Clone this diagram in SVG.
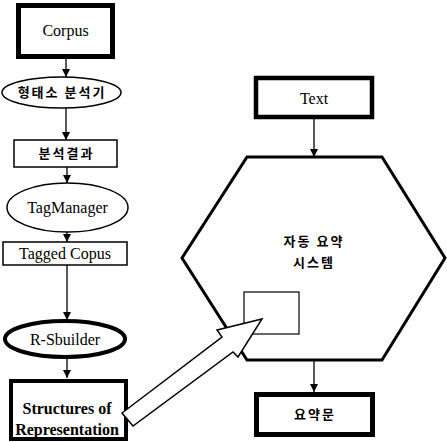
<svg xmlns="http://www.w3.org/2000/svg" width="447" height="442" viewBox="0 0 447 442">
<defs>
<marker id="ah" viewBox="0 0 8 8" refX="8" refY="4" markerWidth="8" markerHeight="8" markerUnits="userSpaceOnUse" orient="auto">
<path d="M0,0 L8,4 L0,8 Z" fill="#000"/>
</marker>
<style>
.en{font-family:'Liberation Serif','Times New Roman','DejaVu Serif',serif;font-size:16px;fill:#000;text-anchor:middle}
.ko{font-family:'Noto Sans CJK KR','Noto Sans',sans-serif;font-size:13px;font-weight:bold;fill:#000;text-anchor:middle;letter-spacing:2px}
.thin{fill:#fff;stroke:#000;stroke-width:1.5}
.thick{fill:#fff;stroke:#000;stroke-width:4.5}
.conn{stroke:#000;stroke-width:1.3;fill:none;marker-end:url(#ah)}
</style>
</defs>
<rect width="447" height="442" fill="#fff"/>
<g id="connectors">
<line class="conn" x1="66" y1="59" x2="66" y2="77"/>
<line class="conn" x1="66" y1="108" x2="66" y2="140"/>
<line class="conn" x1="67" y1="167" x2="67" y2="183"/>
<line class="conn" x1="67" y1="232" x2="67" y2="242"/>
<line class="conn" x1="67" y1="265" x2="67" y2="320"/>
<line class="conn" x1="67" y1="358" x2="67" y2="378"/>
<line class="conn" x1="314" y1="119" x2="314" y2="157"/>
<line class="conn" x1="314" y1="360" x2="314" y2="392"/>
</g>
<g id="corpus">
<rect class="thick" x="18.5" y="5.5" width="94" height="51" style="stroke-width:5"/>
<text class="en" x="65.5" y="36">Corpus</text>
</g>
<g id="morph">
<ellipse class="thin" cx="61.5" cy="92.5" rx="59.5" ry="15.5"/>
<text class="ko" x="62" y="97">형태소 분석기</text>
</g>
<g id="result">
<rect class="thin" x="14" y="140" width="103" height="27"/>
<text class="ko" x="66.5" y="158">분석결과</text>
</g>
<g id="tagmanager">
<ellipse class="thin" cx="67.5" cy="207.5" rx="60.5" ry="24.5"/>
<text class="en" x="67.5" y="213">TagManager</text>
</g>
<g id="tagged">
<rect class="thin" x="3" y="242" width="124" height="23"/>
<text class="en" x="65" y="259">Tagged Copus</text>
</g>
<g id="rsbuilder">
<ellipse class="thick" cx="65" cy="339" rx="60" ry="18" style="stroke-width:4"/>
<text class="en" x="65" y="345">R-Sbuilder</text>
</g>
<g id="structures">
<rect class="thick" x="11" y="381" width="115" height="58" style="stroke-width:4"/>
<text class="en" x="67" y="414" font-weight="bold">Structures of</text>
<text class="en" x="67" y="435" font-weight="bold">Representation</text>
</g>
<g id="text">
<rect class="thick" x="256" y="78" width="116" height="39"/>
<text class="en" x="314" y="104">Text</text>
</g>
<g id="system">
<polygon points="247,157 382,157 445,258 382,360 247,360 182,258" fill="#fff" stroke="#000" stroke-width="3" stroke-linejoin="miter"/>
<text class="ko" x="314" y="246">자동 요약</text>
<text class="ko" x="314" y="267">시스템</text>
<rect x="244" y="292" width="55" height="42" fill="#fff" stroke="#000" stroke-width="1.2"/>
</g>
<g id="summary">
<rect class="thick" x="256.5" y="394.5" width="116" height="40" style="stroke-width:5"/>
<text class="ko" x="315" y="419">요약문</text>
</g>
<g id="bigarrow">
<polygon points="122,413 222,337 217,330 262,319 238,357 233,352 133,426" fill="#fff" stroke="#000" stroke-width="1.5" stroke-linejoin="miter"/>
</g>
</svg>
